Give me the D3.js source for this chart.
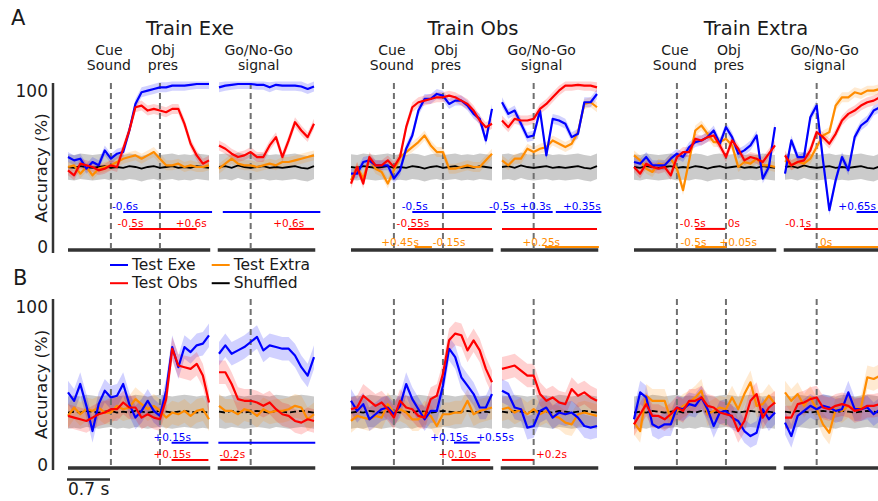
<!DOCTYPE html>
<html>
<head>
<meta charset="utf-8">
<script src="https://cdn.jsdelivr.net/npm/d3@7"></script>
<style>
  body { margin: 0; background: #fff; }
  svg { display: block; font-family: 'DejaVu Sans', sans-serif; }
</style>
</head>
<body>
<script>
const w = 878;
const h = 501;

// sample times (s): left part aligned on cue sound, right part on go signal
const tLeft = [-0.7, -0.6, -0.5, -0.4, -0.3, -0.2, -0.1, 0, 0.1, 0.2, 0.3, 0.4,
  0.5, 0.6, 0.7, 0.8, 0.9, 1.0, 1.1, 1.2, 1.3, 1.4, 1.5, 1.6];
const tRight = [-0.5, -0.4, -0.3, -0.2, -0.1, 0, 0.1, 0.2, 0.3, 0.4, 0.5, 0.6, 0.7, 0.8, 0.9, 1.0];

const panelTitles = ['Train Exe', 'Train Obs', 'Train Extra'];

// ---- row A (Go/No-Go, chance 50%) ----
const a1ExeL = [56, 54, 55, 49, 53, 51, 60, 55, 58, 59, 72, 88, 95, 96, 97, 98, 98, 99, 99, 99, 99.5, 100, 100, 100];
const a1ObsL = [48, 45, 52, 51, 50, 48, 49, 51, 50, 61, 72, 86, 87, 84, 85, 84, 83, 85, 85, 76, 64, 57, 52, 54];
const a1ExtraL = [50, 51, 46, 50, 45, 49, 50, 51, 53, 55, 56, 57, 55, 57, 59, 55, 51, 51, 52, 50, 51, 50, 50, 51];
const a1ExeR = [98, 99, 99.5, 100, 100, 100, 99.5, 99.5, 98, 99.5, 99, 99, 99, 98.5, 97, 98.5];
const a1ObsR = [63, 61, 58, 56, 57, 59, 56, 56, 63, 68, 56, 66, 77, 72, 68, 76];
const a1ExtraR = [49, 52, 55, 52, 51, 51, 50, 51, 52, 51, 53, 53, 54, 55, 56, 57];

const a2ExeL = [46, 46, 53, 54, 51, 51, 51, 43, 48, 61, 69, 84, 91, 91, 94, 93, 88, 90, 90, 87, 82, 79, 66, 85];
const a2ObsL = [40, 50, 40, 56, 51, 51, 54, 50, 56, 74, 86, 89, 90, 91, 92, 92, 93, 92, 90, 88, 84, 78, 74, 76];
const a2ExtraL = [42, 50, 43, 55, 49, 47, 40, 48, 56, 59, 62, 65, 69, 63, 59, 59, 49, 49, 50, 51, 50, 50, 54, 58];
const a2ExeR = [89, 82, 84, 76, 68, 69, 84, 57, 79, 78, 76, 68, 70, 89, 89, 94];
const a2ObsR = [78, 74, 79, 78, 78, 79, 85, 88, 92, 96, 99, 99, 99.5, 99, 99, 98];
const a2ExtraR = [54, 51, 55, 55, 61, 59, 61, 62, 66, 64, 62, 64, 71, 88, 89, 86];

const a3ExeL = [53, 52, 56, 51, 51, 51, 55, 58, 56, 62, 65, 66, 68, 72, 64, 74, 68, 58, 60, 63, 69, 43, 50, 74];
const a3ObsL = [50, 46, 52, 50, 49, 50, 45, 56, 59, 59, 67, 66, 68, 69, 63, 56, 66, 61, 54, 56, 55, 53, 58, 63];
const a3ExtraL = [57, 54, 49, 47, 52, 51, 55, 49, 36, 54, 72, 75, 70, 65, 65, 67, 63, 50, 53, 52, 55, 51, 51, 50];
const a3ExeR = [46, 66, 56, 56, 80, 87, 54, 24, 42, 56, 48, 68, 75, 78, 84, 86];
const a3ObsR = [57, 51, 53, 54, 60, 71, 68, 64, 70, 78, 82, 84, 87, 89, 90, 92];
const a3ExtraR = [54, 51, 53, 52, 55, 62, 69, 71, 87, 92, 92, 95, 94, 96, 96, 97];

const shufAL = [50, 49.5, 50.5, 50, 49.5, 50, 50.5, 49.5, 50, 49.5, 50.5, 50, 49, 50, 50.5, 49.5, 50, 50.5, 49.5, 50, 49.5, 50.5, 50, 49.5];
const shufAR = [50, 50.5, 49.5, 51, 50, 49.5, 50, 50.5, 49.5, 50, 49.5, 50, 50.5, 49.5, 49, 50.5];

// ---- row B (object type, chance 33%) ----
const b1ExeL = [45, 40, 50, 37, 22, 38, 46, 42, 43, 50, 38, 30, 34, 40, 34, 31, 46, 72, 60, 72, 69, 73, 74, 79];
const b1ObsL = [31, 30, 29, 28, 30, 32, 33, 35, 35, 39, 36, 36, 30, 32, 30, 29, 41, 71, 61, 60, 59, 62, 55, 39];
const b1ExtraL = [31, 36, 32, 35, 34, 36, 33, 33, 37, 35, 36, 41, 38, 35, 37, 34, 30, 33, 32, 34, 31, 34, 35, 29];
const b1ExeR = [68, 73, 68, 70, 72, 75, 78, 70, 73, 72, 71, 71, 67, 60, 55, 66];
const b1ObsR = [57, 57, 50, 41, 40, 40, 39, 37, 39, 35, 32, 31, 28, 27, 29, 28];
const b1ExtraR = [37, 34, 34, 32, 35, 34, 31, 35, 33, 34, 34, 35, 37, 36, 29, 32];

const b2ExeL = [40, 34, 38, 29, 32, 35, 36, 32, 37, 50, 41, 35, 29, 34, 34, 49, 71, 66, 54, 49, 44, 36, 36, 44];
const b2ObsL = [35, 36, 43, 40, 37, 39, 35, 30, 40, 36, 35, 31, 30, 41, 43, 56, 76, 80, 79, 70, 76, 70, 59, 51];
const b2ExtraL = [28, 31, 30, 29, 31, 30, 38, 33, 35, 33, 29, 29, 33, 31, 25, 32, 32, 33, 33, 40, 32, 34, 35, 36];
const b2ExeR = [46, 44, 36, 35, 24, 25, 34, 36, 30, 33, 32, 33, 30, 25, 24, 25];
const b2ObsR = [59, 60, 61, 58, 55, 55, 44, 40, 42, 39, 38, 47, 43, 45, 42, 40];
const b2ExtraR = [35, 36, 33, 35, 32, 35, 32, 34, 31, 30, 27, 26, 32, 33, 32, 31];

const b3ExeL = [29, 45, 42, 26, 24, 26, 26, 36, 35, 38, 37, 42, 35, 25, 33, 34, 30, 28, 22, 19, 21, 35, 29, 33];
const b3ObsL = [26, 32, 38, 31, 31, 29, 32, 36, 34, 40, 40, 42, 37, 36, 33, 32, 31, 22, 28, 40, 44, 30, 36, 39];
const b3ExtraL = [27, 22, 43, 40, 40, 40, 29, 34, 37, 39, 42, 46, 32, 34, 36, 35, 42, 35, 44, 51, 37, 38, 43, 38];
const b3ExeR = [27, 19, 31, 34, 37, 35, 37, 36, 34, 35, 45, 35, 35, 36, 32, 35];
const b3ObsR = [30, 30, 38, 39, 41, 42, 36, 35, 37, 38, 37, 34, 35, 37, 37, 38];
const b3ExtraR = [45, 40, 44, 37, 42, 35, 26, 21, 35, 34, 37, 35, 36, 54, 53, 55];

const shufBL = [33, 33.5, 33, 34, 33.5, 33, 33.5, 34, 33, 33.5, 33, 34, 33.5, 33, 33.5, 34, 33.5, 33, 33.5, 34, 33.5, 33, 33.5, 33];
const shufBR = [33.5, 33, 34, 33.5, 33, 33.5, 34, 33.5, 33, 34, 33.5, 33, 33.5, 34, 33.5, 33];

// significance bars: row, panel, segment, series, start, end (s)
const sigBars = [
  ['A', 0, 'L', 'exe', 0.2, 1.65], ['A', 0, 'R', 'exe', -0.44, 1.1],
  ['A', 0, 'L', 'obs', 0.3, 1.4], ['A', 0, 'R', 'obs', 0.6, 1.0],
  ['A', 1, 'L', 'exe', 0.3, 1.66], ['A', 1, 'R', 'exe', -0.5, 0.3], ['A', 1, 'R', 'exe', 0.35, 1.07],
  ['A', 1, 'L', 'obs', 0.23, 1.6], ['A', 1, 'R', 'obs', -0.5, 1.0],
  ['A', 1, 'L', 'extra', 0.34, 0.62], ['A', 1, 'R', 'extra', 0.18, 1.03],
  ['A', 2, 'L', 'obs', 0.3, 0.79], ['A', 2, 'R', 'obs', -0.2, 1.1],
  ['A', 2, 'L', 'extra', 0.3, 0.81], ['A', 2, 'R', 'extra', 0.02, 1.1],
  ['A', 2, 'R', 'exe', 0.63, 1.1],
  ['B', 0, 'L', 'exe', 0.99, 1.59], ['B', 0, 'R', 'exe', -0.51, 1.02],
  ['B', 0, 'L', 'obs', 0.99, 1.59], ['B', 0, 'R', 'obs', -0.48, -0.21],
  ['B', 1, 'L', 'exe', 0.98, 1.4],
  ['B', 1, 'L', 'obs', 0.94, 1.57], ['B', 1, 'R', 'obs', -0.5, 0.0],
];

const sigLabels = [
  ['A', 0, 'L', 'exe', 0.23, '-0.6s'],
  ['A', 0, 'L', 'obs', 0.32, '-0.5s'], ['A', 0, 'L', 'obs', 1.31, '+0.6s'], ['A', 0, 'R', 'obs', 0.6, '+0.6s'],
  ['A', 1, 'L', 'exe', 0.34, '-0.5s'], ['A', 1, 'R', 'exe', -0.5, '-0.5s'],
  ['A', 1, 'R', 'exe', 0.03, '+0.3s'], ['A', 1, 'R', 'exe', 0.76, '+0.35s'],
  ['A', 1, 'L', 'obs', 0.31, '-0.55s'],
  ['A', 1, 'L', 'extra', 0.1, '+0.45s'], ['A', 1, 'L', 'extra', 0.9, '-0.15s'],
  ['A', 1, 'R', 'extra', 0.12, '+0.25s'],
  ['A', 2, 'L', 'obs', 0.26, '-0.5s'], ['A', 2, 'L', 'obs', 0.93, '0s'],
  ['A', 2, 'L', 'extra', 0.27, '-0.5s'], ['A', 2, 'L', 'extra', 1.0, '+0.05s'],
  ['A', 2, 'R', 'obs', -0.29, '-0.1s'], ['A', 2, 'R', 'extra', 0.15, '0s'],
  ['A', 2, 'R', 'exe', 0.64, '+0.65s'],
  ['B', 0, 'L', 'exe', 1.0, '+0.15s'], ['B', 0, 'L', 'obs', 1.0, '+0.15s'],
  ['B', 0, 'R', 'obs', -0.29, '-0.2s'],
  ['B', 1, 'L', 'exe', 0.9, '+0.15s'], ['B', 1, 'L', 'exe', 1.65, '+0.55s'],
  ['B', 1, 'L', 'obs', 1.04, '+0.10s'], ['B', 1, 'R', 'obs', 0.28, '+0.2s'],
];

const legendItems = [['exe', 'Test Exe'], ['obs', 'Test Obs'], ['extra', 'Test Extra'], ['shuf', 'Shuffled']];

const rows = {
  A: {
    shuf: [shufAL, shufAR],
    panels: [
      { exe: [a1ExeL, a1ExeR], obs: [a1ObsL, a1ObsR], extra: [a1ExtraL, a1ExtraR] },
      { exe: [a2ExeL, a2ExeR], obs: [a2ObsL, a2ObsR], extra: [a2ExtraL, a2ExtraR] },
      { exe: [a3ExeL, a3ExeR], obs: [a3ObsL, a3ObsR], extra: [a3ExtraL, a3ExtraR] },
    ],
  },
  B: {
    shuf: [shufBL, shufBR],
    panels: [
      { exe: [b1ExeL, b1ExeR], obs: [b1ObsL, b1ObsR], extra: [b1ExtraL, b1ExtraR] },
      { exe: [b2ExeL, b2ExeR], obs: [b2ObsL, b2ObsR], extra: [b2ExtraL, b2ExtraR] },
      { exe: [b3ExeL, b3ExeR], obs: [b3ObsL, b3ObsR], extra: [b3ExtraL, b3ExtraR] },
    ],
  },
};

// ---------- layout ----------
const colors = { exe: '#0000ff', obs: '#ff0000', extra: '#ff8c00', shuf: '#000000' };
const textColor = '#1a1a1a';
const panelX = [68, 351, 634];
const yScales = {
  A: d3.scaleLinear().domain([0, 100]).range([250, 84]),
  B: d3.scaleLinear().domain([0, 100]).range([468, 300]),
};
const axisSpan = { A: [83, 253], B: [299, 470] };
const bandHalf = { A: 7.7, B: 9.6 };
const semHalf = { A: 3, B: 7 };
const barLevel = { A: { exe: 22.9, obs: 12.7, extra: 1.8 }, B: { exe: 15.1, obs: 4.8 } };

const xLeft = (p) => d3.scaleLinear().domain([-0.7, 1.6]).range([panelX[p], panelX[p] + 141]);
const xRight = (p) => d3.scaleLinear().domain([-0.5, 1.0]).range([panelX[p] + 151, panelX[p] + 246]);

const svg = d3
  .select('body')
  .append('svg')
  .attr('width', w)
  .attr('height', h);

const drawRow = (key) => {
  const row = rows[key];
  const y = yScales[key];
  const g = svg.append('g').attr('class', `row-${key}`);

  row.panels.forEach((panel, p) => {
    const xs = [xLeft(p), xRight(p)];
    const times = [tLeft, tRight];

    [0, 1].forEach((s) => {
      const x = xs[s];
      const t = times[s];
      const shuf = row.shuf[s];

      // shuffled band
      g.append('path')
        .datum(t.map((d, i) => [d, shuf[i]]))
        .attr('fill', '#cbcbcb')
        .attr(
          'd',
          d3
            .area()
            .x((d) => x(d[0]))
            .y0((d) => y(d[1] - bandHalf[key]))
            .y1((d) => y(d[1] + bandHalf[key]))
        );

      // error bands
      ['extra', 'exe', 'obs'].forEach((k) => {
        const vals = panel[k][s];
        g.append('path')
          .datum(t.map((d, i) => [d, vals[i]]))
          .attr('fill', colors[k])
          .attr('fill-opacity', 0.18)
          .attr(
            'd',
            d3
              .area()
              .x((d) => x(d[0]))
              .y0((d) => y(Math.max(0, d[1] - semHalf[key])))
              .y1((d) => y(Math.min(101.5, d[1] + semHalf[key])))
          );
      });

      // bottom line
      const ext = s === 0 ? [-0.7, 1.62] : [-0.52, 1.02];
      g.append('line')
        .attr('x1', x(ext[0]))
        .attr('x2', x(ext[1]))
        .attr('y1', y(0))
        .attr('y2', y(0))
        .attr('stroke', '#333')
        .attr('stroke-width', 3.5);

      // event markers
      const events = s === 0 ? [0, 0.8] : [0];
      events.forEach((e) => {
        g.append('line')
          .attr('x1', x(e))
          .attr('x2', x(e))
          .attr('y1', axisSpan[key][0])
          .attr('y2', y(0))
          .attr('stroke', '#707070')
          .attr('stroke-width', 2)
          .attr('stroke-dasharray', '6,4');
      });

      const line = d3
        .line()
        .x((d) => x(d[0]))
        .y((d) => y(d[1]));

      g.append('path')
        .datum(t.map((d, i) => [d, shuf[i]]))
        .attr('fill', 'none')
        .attr('stroke', colors.shuf)
        .attr('stroke-width', 1.8)
        .attr('stroke-dasharray', key === 'B' ? '6,3' : null)
        .attr('d', line);

      ['extra', 'exe', 'obs'].forEach((k) => {
        const vals = panel[k][s];
        g.append('path')
          .datum(t.map((d, i) => [d, vals[i]]))
          .attr('fill', 'none')
          .attr('stroke', colors[k])
          .attr('stroke-width', 2.2)
          .attr('stroke-linejoin', 'round')
          .attr('d', line);
      });
    });

    if (key === 'A') {
      svg.append('text')
        .attr('x', panelX[p] + 122)
        .attr('y', 35)
        .attr('text-anchor', 'middle')
        .attr('font-size', '19.5px')
        .attr('fill', textColor)
        .text(panelTitles[p]);

      const evLabels = [
        [xs[0](0) - 2, 'Cue', 'Sound'],
        [xs[0](0.8) + 3, 'Obj', 'pres'],
        [xs[1](0) + 8, 'Go/No-Go', 'signal'],
      ];
      evLabels.forEach(([ex, l1, l2]) => {
        svg.append('text')
          .attr('x', ex)
          .attr('y', 55)
          .attr('text-anchor', 'middle')
          .attr('font-size', '14px')
          .attr('fill', textColor)
          .text(l1);
        svg.append('text')
          .attr('x', ex)
          .attr('y', 69.5)
          .attr('text-anchor', 'middle')
          .attr('font-size', '14px')
          .attr('fill', textColor)
          .text(l2);
      });
    }
  });

  // significance bars
  sigBars
    .filter((b) => b[0] === key)
    .forEach(([, p, seg, k, t0, t1]) => {
      const x = seg === 'L' ? xLeft(p) : xRight(p);
      g.append('line')
        .attr('x1', x(t0))
        .attr('x2', x(t1))
        .attr('y1', y(barLevel[key][k]))
        .attr('y2', y(barLevel[key][k]))
        .attr('stroke', colors[k])
        .attr('stroke-width', 2);
    });

  sigLabels
    .filter((b) => b[0] === key)
    .forEach(([, p, seg, k, t0, label]) => {
      const x = seg === 'L' ? xLeft(p) : xRight(p);
      g.append('text')
        .attr('x', x(t0))
        .attr('y', y(barLevel[key][k]) - 1.5)
        .attr('text-anchor', 'middle')
        .attr('font-size', '10.5px')
        .attr('fill', colors[k])
        .text(label);
    });

  // y axis
  g.append('line')
    .attr('x1', 53)
    .attr('x2', 53)
    .attr('y1', axisSpan[key][0])
    .attr('y2', axisSpan[key][1])
    .attr('stroke', '#333')
    .attr('stroke-width', 2.5);

  g.append('text')
    .attr('x', 48)
    .attr('y', y(100) + 12.5)
    .attr('text-anchor', 'end')
    .attr('font-size', '17px')
    .attr('fill', textColor)
    .text('100');

  g.append('text')
    .attr('x', 48)
    .attr('y', y(0) + 3)
    .attr('text-anchor', 'end')
    .attr('font-size', '17px')
    .attr('fill', textColor)
    .text('0');

  const mid = (axisSpan[key][0] + axisSpan[key][1]) / 2;
  g.append('text')
    .attr('transform', `translate(41,${mid}) rotate(-90)`)
    .attr('text-anchor', 'middle')
    .attr('dominant-baseline', 'central')
    .attr('font-size', '16.5px')
    .attr('fill', textColor)
    .text('Accuracy (%)');
};

drawRow('A');
drawRow('B');

// panel letters
svg.append('text').attr('x', 11).attr('y', 25).attr('font-size', '21px').attr('fill', textColor).text('A');
svg.append('text').attr('x', 13).attr('y', 285).attr('font-size', '21px').attr('fill', textColor).text('B');

// legend
const legendPos = [[110, 265], [110, 283.2], [211.7, 265], [211.7, 283.2]];
const legend = svg.append('g').attr('id', 'legend');
legendItems.forEach(([k, label], i) => {
  const [lx, ly] = legendPos[i];
  legend.append('line')
    .attr('x1', lx)
    .attr('x2', lx + 18)
    .attr('y1', ly)
    .attr('y2', ly)
    .attr('stroke', colors[k])
    .attr('stroke-width', 2);
  legend.append('text')
    .attr('x', lx + 22)
    .attr('y', ly)
    .attr('dominant-baseline', 'central')
    .attr('font-size', '15.5px')
    .attr('fill', textColor)
    .text(label);
});

// time scale bar
svg.append('line')
  .attr('x1', 67)
  .attr('x2', 110)
  .attr('y1', 479.5)
  .attr('y2', 479.5)
  .attr('stroke', '#333')
  .attr('stroke-width', 2.5);
svg.append('text')
  .attr('x', 68)
  .attr('y', 495)
  .attr('font-size', '17px')
  .attr('fill', textColor)
  .text('0.7 s');
</script>
</body>
</html>
